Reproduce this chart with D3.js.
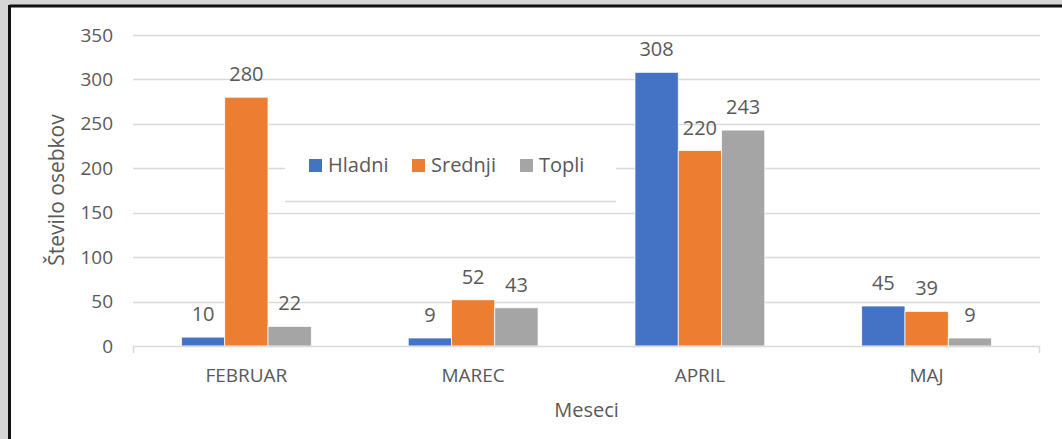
<!DOCTYPE html>
<html>
<head>
<meta charset="utf-8">
<script src="https://cdn.jsdelivr.net/npm/d3@7"></script>
<style>
  html, body { margin: 0; padding: 0; background: #d6d6d6; }
  svg { display: block; font-family: "Open Sans", sans-serif; }
</style>
</head>
<body>
<svg id="chart" width="1062" height="439"></svg>
<script>
// Data
const months = ['FEBRUAR', 'MAREC', 'APRIL', 'MAJ'];
const seriesNames = ['Hladni', 'Srednji', 'Topli'];
const hladni = [10, 9, 308, 45];
const srednji = [280, 52, 220, 39];
const topli = [22, 43, 243, 9];
const yTicks = [0, 50, 100, 150, 200, 250, 300, 350];

const colors = ['#4472C4', '#ED7D31', '#A5A5A5'];
const textColor = '#595959';
const gridColor = '#D9D9D9';

const svg = d3.select('#chart');

// Frame: white sheet with dark top/left border
svg.append('rect').attr('x', 10).attr('y', 6).attr('width', 1052).attr('height', 433).attr('fill', '#fff');
svg.append('line').attr('x1', 9.5).attr('x2', 1062).attr('y1', 6).attr('y2', 6)
  .attr('stroke', '#111').attr('stroke-width', 3);
svg.append('line').attr('x1', 9.5).attr('x2', 9.5).attr('y1', 5).attr('y2', 439)
  .attr('stroke', '#111').attr('stroke-width', 3);

const plot = { left: 133, right: 1040, top: 35, bottom: 346 };

const x = d3.scaleBand().domain(months).range([plot.left, plot.right]).paddingInner(0).paddingOuter(0);
const xInner = d3.scaleBand().domain(seriesNames).range([0, x.bandwidth()]).paddingInner(0).paddingOuter(1.12);
const y = d3.scaleLinear().domain([0, 350]).range([plot.bottom, plot.top]);

// Gridlines
svg.append('g')
  .selectAll('line')
  .data(yTicks.filter(t => t > 0))
  .enter()
  .append('line')
  .attr('x1', plot.left)
  .attr('x2', plot.right)
  .attr('y1', d => Math.round(y(d)) + 0.5)
  .attr('y2', d => Math.round(y(d)) + 0.5)
  .attr('stroke', gridColor)
  .attr('stroke-width', 1.5);

// Y axis labels
const yAxis = svg.append('g')
  .attr('transform', `translate(${plot.left - 20},0)`)
  .call(d3.axisLeft(y).tickValues(yTicks).tickSize(0).tickPadding(0));
yAxis.select('.domain').remove();
yAxis.selectAll('text')
  .attr('fill', textColor)
  .attr('font-size', 19)
  .attr('font-family', '"Open Sans", sans-serif');

// Bars
const series = [hladni, srednji, topli];
const groups = svg.append('g')
  .selectAll('g')
  .data(months)
  .enter()
  .append('g')
  .attr('transform', d => `translate(${x(d)},0)`);

groups.selectAll('rect')
  .data((m, i) => series.map((s, k) => ({ name: seriesNames[k], value: s[i], color: colors[k] })))
  .enter()
  .append('rect')
  .attr('x', d => xInner(d.name))
  .attr('width', xInner.bandwidth())
  .attr('y', d => y(d.value))
  .attr('height', d => y(0) - y(d.value))
  .attr('fill', d => d.color)
  .attr('stroke', '#fff')
  .attr('stroke-width', 0.75);

// Value labels
groups.selectAll('text')
  .data((m, i) => series.map((s, k) => ({ name: seriesNames[k], value: s[i] })))
  .enter()
  .append('text')
  .attr('x', d => xInner(d.name) + xInner.bandwidth() / 2)
  .attr('y', d => y(d.value) - 16)
  .attr('text-anchor', 'middle')
  .attr('fill', textColor)
  .attr('font-size', 20)
  .text(d => d.value);

// Category axis baseline with end ticks
svg.append('path')
  .attr('d', `M${plot.left + 0.5},${plot.bottom + 7}V${plot.bottom + 0.5}H${plot.right - 0.5}V${plot.bottom + 7}`)
  .attr('fill', 'none')
  .attr('stroke', gridColor)
  .attr('stroke-width', 1.5);

svg.append('g')
  .selectAll('text')
  .data(months)
  .enter()
  .append('text')
  .attr('x', d => x(d) + x.bandwidth() / 2)
  .attr('y', 382)
  .attr('text-anchor', 'middle')
  .attr('fill', textColor)
  .attr('font-size', 19)
  .text(d => d);

// Axis titles
svg.append('text')
  .attr('x', (plot.left + plot.right) / 2)
  .attr('y', 417)
  .attr('text-anchor', 'middle')
  .attr('fill', textColor)
  .attr('font-size', 20)
  .text('Meseci');

svg.append('text')
  .attr('transform', 'translate(64,190) rotate(-90)')
  .attr('text-anchor', 'middle')
  .attr('fill', textColor)
  .attr('font-size', 21)
  .text('Število osebkov');

// Legend box (covers gridline, with a stray line under it like the original)
svg.append('rect').attr('x', 285).attr('y', 138).attr('width', 331).attr('height', 61).attr('fill', '#fff');
svg.append('line').attr('x1', 285).attr('x2', 616).attr('y1', 201.5).attr('y2', 201.5)
  .attr('stroke', gridColor).attr('stroke-width', 1.5);

const legendX = [309, 412, 520];
const legend = svg.append('g')
  .selectAll('g')
  .data(seriesNames)
  .enter()
  .append('g')
  .attr('transform', (d, i) => `translate(${legendX[i]},159)`);
legend.append('rect').attr('width', 13).attr('height', 13).attr('fill', (d, i) => colors[i]);
legend.append('text')
  .attr('x', 19)
  .attr('y', 13)
  .attr('fill', textColor)
  .attr('font-size', 20)
  .text(d => d);
</script>
</body>
</html>
